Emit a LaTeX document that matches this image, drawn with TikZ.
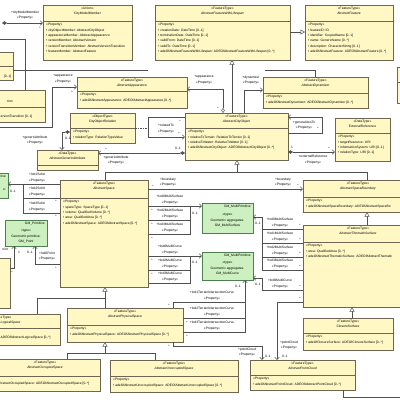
\documentclass[tikz,border=0pt]{standalone}
\usepackage{fontspec}
\newfontfamily\umlsans{Liberation Sans}
\usepackage{tikz}
\usetikzlibrary{arrows.meta}
\definecolor{boxfill}{HTML}{FFF8C4}
\definecolor{boxline}{HTML}{6E6650}
\definecolor{geofill}{HTML}{CCF0C0}
\definecolor{geoline}{HTML}{4F7F4F}
\definecolor{linkcol}{HTML}{505050}

\begin{document}
\begin{tikzpicture}[x=1pt, y=-1pt,
umlbox/.style={draw=boxline, fill=boxfill, line width=0.5pt, anchor=north west, inner sep=0pt, outer sep=0pt},
geobox/.style={umlbox, draw=geoline, fill=geofill},
compline/.style={draw=boxline, line width=0.4pt},
clshead/.style={anchor=north, inner sep=0pt, align=center, font=\umlsans\fontsize{3.3}{5.3}\selectfont},
clsattr/.style={anchor=north west, inner sep=0pt, align=left, font=\umlsans\fontsize{3.3}{5.3}\selectfont},
rolelbl/.style={inner sep=0pt, align=center, font=\umlsans\fontsize{3.3}{5.3}\selectfont},
assoc/.style={draw=linkcol, line width=0.5pt},
navlink/.style={assoc, -{Straight Barb[length=2.5pt, width=4.5pt]}},
genlink/.style={assoc, -{Triangle[open, fill=white, length=4.5pt, width=5pt]}},
complink/.style={assoc, {Diamond[length=5pt, width=3.5pt]}-{Straight Barb[length=2.5pt, width=4.5pt]}},
agglink/.style={assoc, {Diamond[open, fill=white, length=5pt, width=3.5pt]}-{Straight Barb[length=2.5pt, width=4.5pt]}},
clslink/.style={assoc, dash pattern=on 1.5pt off 1pt}]

\useasboundingbox (0,0) rectangle (400,400);
\clip (0,0) rectangle (400,400);
\fill[white] (0,0) rectangle (400,400);

% top row
\node[umlbox, minimum width=89pt, minimum height=55pt] (cmm) at (43,5) {};
\draw[compline] (cmm.west |- 0,21) -- (cmm.east |- 0,21);
\node[clshead, yshift=-2pt] (cmmt) at (cmm.north) {«Union»\\CityModelMember};
\node[clsattr, xshift=3pt] (cmma) at (cmm.west |- 0,23.5) {«Property»\\\textbullet~cityObjectMember: AbstractCityObject\\\textbullet~appearanceMember: AbstractAppearance\\\textbullet~versionMember: AbstractVersion\\\textbullet~versionTransitionMember: AbstractVersionTransition\\\textbullet~featureMember: AbstractFeature};

\node[umlbox, minimum width=135pt, minimum height=55pt] (afl) at (155,5) {};
\draw[compline] (afl.west |- 0,21) -- (afl.east |- 0,21);
\node[clshead, yshift=-2pt] (aflt) at (afl.north) {«FeatureType»\\{\itshape AbstractFeatureWithLifespan}};
\node[clsattr, xshift=3pt] (afla) at (afl.west |- 0,23.5) {«Property»\\\textbullet~creationDate: DateTime [0..1]\\\textbullet~terminationDate: DateTime [0..1]\\\textbullet~validFrom: DateTime [0..1]\\\textbullet~validTo: DateTime [0..1]\\\textbullet~adeOfAbstractFeatureWithLifespan: ADEOfAbstractFeatureWithLifespan [0..*]};

\node[umlbox, minimum width=88pt, minimum height=55pt] (af) at (305,5) {};
\draw[compline] (af.west |- 0,21) -- (af.east |- 0,21);
\node[clshead, yshift=-2pt] (aft) at (af.north) {«FeatureType»\\{\itshape AbstractFeature}};
\node[clsattr, xshift=3pt] (afa) at (af.west |- 0,23.5) {«Property»\\\textbullet~featureID: ID\\\textbullet~identifier: ScopedName [0..1]\\\textbullet~name: GenericName [0..*]\\\textbullet~description: CharacterString [0..1]\\\textbullet~adeOfAbstractFeature: ADEOfAbstractFeature [0..*]};

% boxes cut by the left and right edges
\node[umlbox, minimum width=53pt, minimum height=28pt] (lft1) at (-40,52) {};
\draw[compline] (lft1.west |- 0,66) -- (lft1.east |- 0,66);
\node[rolelbl, anchor=east] (lft1a) at (11.5,76.5) {[0..1]};

\node[umlbox, minimum width=105pt, minimum height=32pt] (lft2) at (-60,90) {};
\draw[compline] (lft2.west |- 0,107) -- (lft2.east |- 0,107);
\node[rolelbl, anchor=east] (lft2t) at (13,101.5) {{\itshape tion}};
\node[rolelbl, anchor=west] (lft2a) at (0.5,117) {ersionTransition [0..1]};

\node[umlbox, minimum width=40pt, minimum height=36pt] (rgt) at (397,67) {};
\draw[compline] (rgt.west |- 0,82) -- (rgt.east |- 0,82);

% second row
\node[umlbox, minimum width=110pt, minimum height=31pt] (aap) at (77,77) {};
\draw[compline] (aap.west |- 0,91) -- (aap.east |- 0,91);
\node[clshead, yshift=-2pt] (aapt) at (aap.north) {«FeatureType»\\{\itshape AbstractAppearance}};
\node[clsattr, xshift=3pt] (aapa) at (aap.west |- 0,93.5) {«Property»\\\textbullet~adeOfAbstractAppearance: ADEOfAbstractAppearance [0..*]};

\node[umlbox, minimum width=105pt, minimum height=31pt] (ady) at (263,77) {};
\draw[compline] (ady.west |- 0,93) -- (ady.east |- 0,93);
\node[clshead, yshift=-2pt] (adyt) at (ady.north) {«FeatureType»\\{\itshape AbstractDynamizer}};
\node[clsattr, xshift=3pt] (adya) at (ady.west |- 0,95.5) {«Property»\\\textbullet~adeOfAbstractDynamizer: ADEOfAbstractDynamizer [0..*]};

\node[umlbox, minimum width=65pt, minimum height=30pt] (cor) at (70,113) {};
\draw[compline] (cor.west |- 0,128) -- (cor.east |- 0,128);
\node[clshead, yshift=-2pt] (cort) at (cor.north) {«ObjectType»\\CityObjectRelation};
\node[clsattr, xshift=3pt] (cora) at (cor.west |- 0,130.5) {«Property»\\\textbullet~relationType: RelationTypeValue};

\node[umlbox, minimum width=103pt, minimum height=47pt] (aco) at (185,113) {};
\draw[compline] (aco.west |- 0,128) -- (aco.east |- 0,128);
\node[clshead, yshift=-2pt] (acot) at (aco.north) {«FeatureType»\\{\itshape AbstractCityObject}};
\node[clsattr, xshift=3pt] (acoa) at (aco.west |- 0,130.5) {«Property»\\\textbullet~relativeToTerrain: RelativeToTerrain [0..1]\\\textbullet~relativeToWater: RelativeToWater [0..1]\\\textbullet~adeOfAbstractCityObject: ADEOfAbstractCityObject [0..*]};

\node[umlbox, minimum width=55pt, minimum height=43pt] (ext) at (335,118) {};
\draw[compline] (ext.west |- 0,133) -- (ext.east |- 0,133);
\node[clshead, yshift=-2pt] (extt) at (ext.north) {«DataType»\\ExternalReference};
\node[clsattr, xshift=3pt] (exta) at (ext.west |- 0,135.5) {«Property»\\\textbullet~targetResource: URI\\\textbullet~informationSystem: URI [0..1]\\\textbullet~relationType: URI [0..1]};

\node[umlbox, minimum width=61pt, minimum height=20pt] (aga) at (37,150) {};
\draw[compline] (aga.west |- 0,165) -- (aga.east |- 0,165);
\node[clshead, yshift=-2pt] (agat) at (aga.north) {«DataType»\\{\itshape AbstractGenericAttribute}};

% spaces and boundaries
\node[geobox, minimum width=38pt, minimum height=25pt] (lgr) at (-30,173) {};
\node[rolelbl, anchor=north east, xshift=-2pt, yshift=-1.5pt] (lgrp) at (lgr.north east) {tive};
\node[rolelbl, anchor=east] (lgrt) at (6,189.5) {e:};

\node[umlbox, minimum width=88pt, minimum height=107pt] (asp) at (60,180) {};
\draw[compline] (asp.west |- 0,198) -- (asp.east |- 0,198);
\node[clshead, yshift=-2pt] (aspt) at (asp.north) {«FeatureType»\\{\itshape AbstractSpace}};
\node[clsattr, xshift=3pt] (aspa) at (asp.west |- 0,200.5) {«Property»\\\textbullet~spaceType: SpaceType [0..1]\\\textbullet~volume: QualifiedVolume [0..*]\\\textbullet~area: QualifiedArea [0..*]\\\textbullet~adeOfAbstractSpace: ADEOfAbstractSpace [0..*]};

\node[umlbox, minimum width=110pt, minimum height=32pt] (asb) at (303,180) {};
\draw[compline] (asb.west |- 0,197) -- (asb.east |- 0,197);
\node[clshead, yshift=-2pt] (asbt) at (asb.north) {«FeatureType»\\{\itshape AbstractSpaceBoundary}};
\node[clsattr, xshift=3pt] (asba) at (asb.west |- 0,199.5) {«Property»\\\textbullet~adeOfAbstractSpaceBoundary: ADEOfAbstractSpaceBo};

\node[umlbox, minimum width=110pt, minimum height=82pt] (ats) at (303,225) {};
\draw[compline] (ats.west |- 0,242) -- (ats.east |- 0,242);
\node[clshead, yshift=-2pt] (atst) at (ats.north) {«FeatureType»\\{\itshape AbstractThematicSurface}};
\node[clsattr, xshift=3pt] (atsa) at (ats.west |- 0,244.5) {«Property»\\\textbullet~area: QualifiedArea [0..*]\\\textbullet~adeOfAbstractThematicSurface: ADEOfAbstractThematic};

\node[umlbox, minimum width=90pt, minimum height=32pt] (cls) at (303,318) {};
\draw[compline] (cls.west |- 0,333) -- (cls.east |- 0,333);
\node[clshead, yshift=-2pt] (clst) at (cls.north) {«FeatureType»\\ClosureSurface};
\node[clsattr, xshift=3pt] (clsa) at (cls.west |- 0,335.5) {«Property»\\\textbullet~adeOfClosureSurface: ADEOfClosureSurface [0..*]};

% geometry types
\node[geobox, minimum width=51pt, minimum height=30pt] (gms) at (202,203) {};
\node[rolelbl, anchor=north east, xshift=-2pt, yshift=-1.5pt] (gmsp) at (gms.north east) {GM\_MultiPrimitive};
\node[clshead, yshift=-10.6pt] (gmst) at (gms.north) {«type»\\Geometric aggregates:\\GM\_MultiSurface};

\node[geobox, minimum width=51pt, minimum height=28pt] (gmc) at (202,252) {};
\node[rolelbl, anchor=north east, xshift=-2pt, yshift=-1.5pt] (gmcp) at (gmc.north east) {GM\_MultiPrimitive};
\node[clshead, yshift=-9.6pt] (gmct) at (gmc.north) {«type»\\Geometric aggregates:\\GM\_MultiCurve};

\node[geobox, minimum width=42pt, minimum height=26pt] (gmp) at (5,220) {};
\node[rolelbl, anchor=north east, xshift=-2pt, yshift=-1.5pt] (gmpp) at (gmp.north east) {GM\_Primitive};
\node[clshead, yshift=-9.6pt] (gmpt) at (gmp.north) {«type»\\Geometric primitive:\\GM\_Point};

% lower rows
\node[umlbox, minimum width=40pt, minimum height=50pt] (lcl) at (-30,258) {};

\node[umlbox, minimum width=114pt, minimum height=31pt] (als) at (-54,314) {};
\draw[compline] (als.west |- 0,328) -- (als.east |- 0,328);
\node[rolelbl, anchor=west] (alst) at (0.5,317.4) {eType»};
\node[rolelbl, anchor=west] (alsn) at (0.5,322.7) {{\itshape LogicalSpace}};
\node[rolelbl, anchor=west] (alsa) at (0.5,338) {ADEOfAbstractLogicalSpace [0..*]};

\node[umlbox, minimum width=116pt, minimum height=34pt] (aps) at (67,308) {};
\draw[compline] (aps.west |- 0,325) -- (aps.east |- 0,325);
\node[clshead, yshift=-2pt] (apst) at (aps.north) {«FeatureType»\\{\itshape AbstractPhysicalSpace}};
\node[clsattr, xshift=3pt] (apsa) at (aps.west |- 0,327.5) {«Property»\\\textbullet~adeOfAbstractPhysicalSpace: ADEOfAbstractPhysicalSpace [0..*]};

\node[umlbox, minimum width=110pt, minimum height=32pt] (aos) at (-10,359) {};
\draw[compline] (aos.west |- 0,376) -- (aos.east |- 0,376);
\node[clshead, yshift=-2pt] (aost) at (aos.north) {«FeatureType»\\{\itshape AbstractOccupiedSpace}};
\node[rolelbl, anchor=west] (aosa) at (0.5,383.5) {bstractOccupiedSpace: ADEOfAbstractOccupiedSpace [0..*]};

\node[umlbox, minimum width=128pt, minimum height=32pt] (aus) at (110,360) {};
\draw[compline] (aus.west |- 0,376) -- (aus.east |- 0,376);
\node[clshead, yshift=-2pt] (aust) at (aus.north) {«FeatureType»\\{\itshape AbstractUnoccupiedSpace}};
\node[clsattr, xshift=3pt] (ausa) at (aus.west |- 0,378.5) {«Property»\\\textbullet~adeOfAbstractUnoccupiedSpace: ADEOfAbstractUnoccupiedSpace [0..*]};

\node[umlbox, minimum width=105pt, minimum height=30pt] (apc) at (250,360) {};
\draw[compline] (apc.west |- 0,375) -- (apc.east |- 0,375);
\node[clshead, yshift=-2pt] (apct) at (apc.north) {«FeatureType»\\{\itshape AbstractPointCloud}};
\node[clsattr, xshift=3pt] (apca) at (apc.west |- 0,377.5) {«Property»\\\textbullet~adeOfAbstractPointCloud: ADEOfAbstractPointCloud [0..*]};

% free ends and joints
\coordinate (cmmsrc) at (2,23);
\coordinate (lftin) at (0,39);
\coordinate (appsrc) at (0,127);
\coordinate (topend) at (148,70);
\coordinate (dynin) at (265,70);
\coordinate (relloop) at (148,128);
\coordinate (genj) at (237,172);
\coordinate (genk) at (105,298);
\coordinate (genm) at (105,353);
\coordinate (solj1) at (23,184);
\coordinate (solj2) at (23,198);
\coordinate (msj1) at (190,206);
\coordinate (msj2) at (190,220);
\coordinate (mcj1) at (190,256);
\coordinate (mcj2) at (190,270);
\coordinate (ticj1) at (245,302);
\coordinate (ticj2) at (245,318);
\coordinate (tsj1) at (262,229);
\coordinate (tsj2) at (262,243);
\coordinate (tsj3) at (262,257);
\coordinate (apcout) at (405,397);

% connectors
\draw[complink] (cmmsrc) -- (cmm.west |- 0,23);
\draw[assoc] (lftin) -| (lft2.north -| 25,0);
\draw[assoc] (lft1.east |- 0,70) -- (topend);
\draw[assoc] (dynin) -| (ady.north -| 315,0);
\draw[navlink] (appsrc) -| (52,87) -- (aap.west |- 0,87);
\draw[agglink] (aco.north -| 223,0) |- (aap.east |- 0,89);
\draw[genlink] (aco.north -| 232,0) -- (afl.south -| 232,0);
\draw[navlink] (aco.north -| 244,0) |- (ady.west |- 0,90);
\draw[genlink] (afl.east |- 0,32) -- (af.west |- 0,32);

\draw[navlink] (aco.west |- 0,117) -| (148,137) -- (aco.west |- 0,137);
\draw[clslink] (cor.east |- 0,128) -- (relloop);
\draw[navlink] (aco.east |- 0,133) -| (322,117) -- (aco.east |- 0,117);
\draw[complink] (aco.east |- 0,152) -- (ext.west |- 0,152);
\draw[complink] (aco.west |- 0,153) -- (aga.east |- 0,153);
\draw[complink] (cor.west |- 0,132) -| (aga.north -| 62,0);

\draw[genlink] (asp.north -| 105,0) |- (genj) -- (aco.south -| 237,0);
\draw[assoc] (asb.north -| 367,0) |- (genj);
\draw[navlink] (asp.east |- 0,189) -- (asb.west |- 0,189);

\draw[navlink] (asp.west |- 0,184) -- (lgr.east |- 0,184);
\draw[assoc] (asp.west |- 0,198) -| (solj1);
\draw[assoc] (asp.west |- 0,213) -| (solj2);

\draw[navlink] (asp.east |- 0,206) -- (gms.west |- 0,206);
\draw[assoc] (asp.east |- 0,220) -| (msj1);
\draw[assoc] (asp.east |- 0,234) -| (msj2);

\draw[navlink] (asp.east |- 0,256) -- (gmc.west |- 0,256);
\draw[assoc] (asp.east |- 0,270) -| (mcj1);
\draw[assoc] (asp.east |- 0,283) -| (mcj2);

\draw[navlink] (asp.west |- 0,264) -| (gmp.south -| 35,0);
\draw[navlink] (lcl.east |- 0,268) -| (gmp.south -| 14,0);

\draw[genlink] (aps.north -| 105,0) -- (asp.south -| 105,0);
\draw[assoc] (als.north -| 37,0) |- (genk);
\draw[genlink] (aos.north -| 67,0) |- (genm) -- (aps.south -| 105,0);
\draw[assoc] (aus.north -| 155,0) |- (genm);

\draw[navlink] (aps.north -| 173,0) |- (ticj1) -- (gmc.south -| 245,0);
\draw[assoc] (aps.east |- 0,318) -| (ticj1);
\draw[assoc] (aps.east |- 0,332) -| (ticj2);

\draw[navlink] (aps.south -| 173,0) |- (262,346) -- (apc.north -| 262,0);
\draw[navlink] (ats.west |- 0,302) -| (apc.north -| 277,0);

\draw[navlink] (ats.west |- 0,229) -| (262,217) -- (gms.east |- 0,217);
\draw[assoc] (ats.west |- 0,243) -| (tsj1);
\draw[assoc] (ats.west |- 0,257) -| (tsj2);
\draw[assoc] (ats.west |- 0,270) -| (tsj3);
\draw[navlink] (ats.west |- 0,290) -| (262,278) -- (gmc.east |- 0,278);

\draw[genlink] (ats.north -| 367,0) -- (asb.south -| 367,0);
\draw[genlink] (cls.north -| 352,0) -- (ats.south -| 352,0);
\draw[assoc] (apc.south -| 343,0) |- (apcout);

% role names and multiplicities
\node[rolelbl] (r01) at (25,15) {+cityModelMember\\«Property»};
\node[rolelbl] (m01) at (40,28) {*};
\node[rolelbl] (r02) at (63,79) {+appearance\\«Property»};
\node[rolelbl] (m02) at (72,92) {*};
\node[rolelbl] (r03) at (204,80) {+appearance\\«Property»};
\node[rolelbl] (m03) at (218,108) {*};
\node[rolelbl] (r04) at (251,80) {+dynamizer\\«Property»};
\node[rolelbl] (r05) at (166,128.5) {+relatedTo\\«Property»};
\node[rolelbl] (m05) at (179,133) {*};
\node[rolelbl] (m06) at (180,121) {*};
\node[rolelbl] (r06) at (304,125) {+generalizesTo\\«Property»};
\node[rolelbl] (m07) at (318,128) {*};
\node[rolelbl] (m08) at (292,147) {1};
\node[rolelbl] (m09) at (329,148) {*};
\node[rolelbl] (r07) at (313,159.5) {+externalReference\\«Property»};
\node[rolelbl] (m10) at (178,148) {0..1};
\node[rolelbl] (m11) at (106,149) {*};
\node[rolelbl] (r08) at (116,160) {+genericAttribute\\«Property»};
\node[rolelbl] (r09) at (35,140) {+genericAttribute\\«Property»};
\node[rolelbl] (m12) at (68,138.5) {0..1};
\node[rolelbl] (r10) at (168,182) {+boundary\\«Property»};
\node[rolelbl] (m13) at (153,186) {*};
\node[rolelbl] (r11) at (283,182) {+boundary\\«Property»};
\node[rolelbl] (m14) at (298,185) {*};
\node[rolelbl] (r12) at (37,177.5) {+lod1Solid\\«Property»};
\node[rolelbl] (r13) at (37,191.5) {+lod2Solid\\«Property»};
\node[rolelbl] (r14) at (37,206.5) {+lod3Solid\\«Property»};
\node[rolelbl] (m15) at (13,191) {0..1};
\node[rolelbl] (m16) at (56,201) {*};
\node[rolelbl] (m17) at (56,216) {*};
\node[rolelbl] (r15) at (170,199.5) {+lod0MultiSurface\\«Property»};
\node[rolelbl] (r16) at (170,213.5) {+lod2MultiSurface\\«Property»};
\node[rolelbl] (r17) at (170,227.5) {+lod3MultiSurface\\«Property»};
\node[rolelbl] (m18) at (195,213) {0..1};
\node[rolelbl] (m19) at (152,210) {*};
\node[rolelbl] (m20) at (152,224) {*};
\node[rolelbl] (m21) at (152,238) {*};
\node[rolelbl] (r18) at (170,249.5) {+lod0MultiCurve\\«Property»};
\node[rolelbl] (r19) at (170,263.5) {+lod2MultiCurve\\«Property»};
\node[rolelbl] (r20) at (170,276.5) {+lod3MultiCurve\\«Property»};
\node[rolelbl] (m22) at (195,262) {0..1};
\node[rolelbl] (m23) at (152,260) {*};
\node[rolelbl] (m24) at (152,274) {*};
\node[rolelbl] (r21) at (47,256) {+lod0Point\\«Property»};
\node[rolelbl] (m25) at (30,252) {0..1};
\node[rolelbl] (m26) at (19,252) {1};
\node[rolelbl] (m27) at (56,268) {*};
\node[rolelbl, anchor=east] (r22) at (8,249) {oint};
\node[rolelbl] (m28) at (12,272) {*};
\node[rolelbl] (r23) at (212,295.5) {+lod1TerrainIntersectionCurve\\«Property»};
\node[rolelbl] (r24) at (212,311.5) {+lod2TerrainIntersectionCurve\\«Property»};
\node[rolelbl] (r25) at (212,325.5) {+lod3TerrainIntersectionCurve\\«Property»};
\node[rolelbl] (m29) at (238,286) {0..1};
\node[rolelbl] (m30) at (169,305) {*};
\node[rolelbl] (m31) at (187,322) {*};
\node[rolelbl] (m32) at (187,336) {*};
\node[rolelbl] (r26) at (247,352) {+pointCloud\\«Property»};
\node[rolelbl] (m33) at (169,346) {*};
\node[rolelbl] (m34) at (268,356) {0..1};
\node[rolelbl] (r27) at (289,345) {+pointCloud\\«Property»};
\node[rolelbl] (m35) at (300,298) {*};
\node[rolelbl] (m36) at (285,356) {0..1};
\node[rolelbl] (r28) at (280,222.5) {+lod0MultiSurface\\«Property»};
\node[rolelbl] (r29) at (280,236.5) {+lod1MultiSurface\\«Property»};
\node[rolelbl] (r30) at (280,250.5) {+lod2MultiSurface\\«Property»};
\node[rolelbl] (r31) at (280,263.5) {+lod3MultiSurface\\«Property»};
\node[rolelbl] (m37) at (258,223) {0..1};
\node[rolelbl] (m38) at (300,225) {*};
\node[rolelbl] (m39) at (300,239) {*};
\node[rolelbl] (m40) at (300,253) {*};
\node[rolelbl] (m41) at (300,266) {*};
\node[rolelbl] (r32) at (280,283.5) {+lod0MultiCurve\\«Property»};
\node[rolelbl] (m42) at (258,284) {0..1};
\node[rolelbl] (m43) at (300,286) {*};
\end{tikzpicture}
\end{document}
